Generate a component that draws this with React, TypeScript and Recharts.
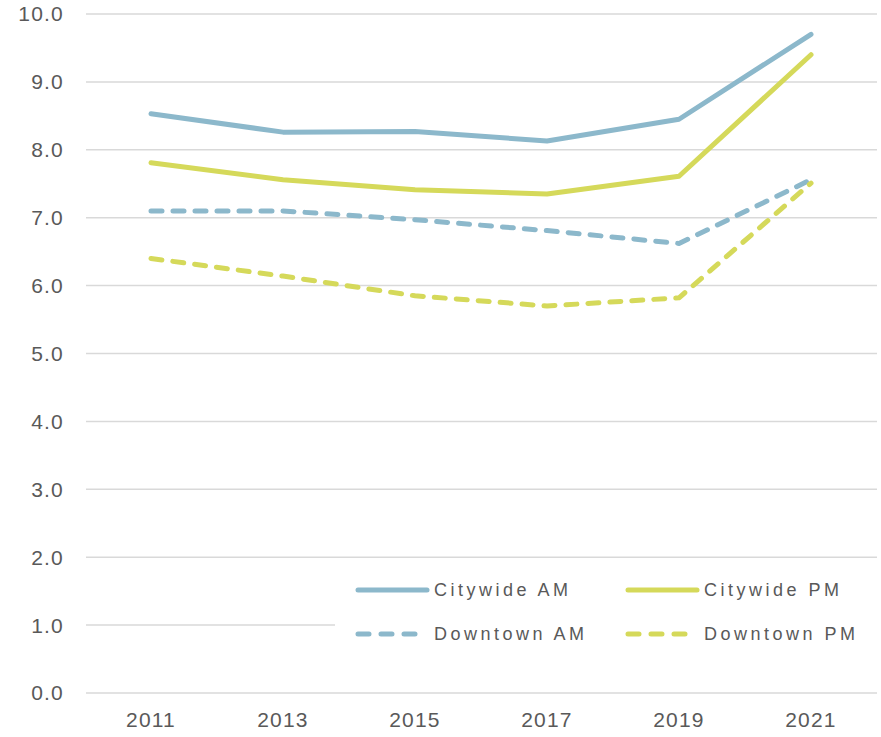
import { LineChart, Line, XAxis, YAxis, CartesianGrid } from 'recharts';

const years = ['2011', '2013', '2015', '2017', '2019', '2021'];
const citywideAM = [8.53, 8.26, 8.27, 8.13, 8.45, 9.7];
const citywidePM = [7.81, 7.56, 7.41, 7.35, 7.61, 9.4];
const downtownAM = [7.1, 7.1, 6.97, 6.81, 6.62, 7.56];
const downtownPM = [6.4, 6.14, 5.85, 5.7, 5.82, 7.51];
const yTicks = [0, 1, 2, 3, 4, 5, 6, 7, 8, 9, 10];

const BLUE = '#8cb8cb';
const YELLOW = '#d5d95a';
const TEXT = '#595959';

const SERIES = [
  { key: 'citywideAM', label: 'Citywide AM', color: BLUE, dashed: false },
  { key: 'citywidePM', label: 'Citywide PM', color: YELLOW, dashed: false },
  { key: 'downtownAM', label: 'Downtown AM', color: BLUE, dashed: true },
  { key: 'downtownPM', label: 'Downtown PM', color: YELLOW, dashed: true },
];

const data = years.map((y, i) => ({
  year: y,
  citywideAM: citywideAM[i],
  citywidePM: citywidePM[i],
  downtownAM: downtownAM[i],
  downtownPM: downtownPM[i],
}));

// legend sits on a white box over the lower right of the plot
function LegendBox() {
  return (
    <div
      style={{
        position: 'absolute',
        left: 335,
        top: 566,
        background: '#fff',
        width: 546,
        height: 92,
        display: 'grid',
        gridTemplateColumns: '270px 276px',
        gridTemplateRows: '44px 44px',
        paddingLeft: 20,
        paddingTop: 2,
        boxSizing: 'border-box',
      }}
    >
      {SERIES.map((s) => (
        <div key={s.key} style={{ display: 'flex', alignItems: 'center' }}>
          <svg width={79} height={10} style={{ display: 'block', flex: 'none' }}>
            <line
              x1={3}
              y1={5}
              x2={s.dashed ? 66 : 72}
              y2={5}
              stroke={s.color}
              strokeWidth={5}
              strokeLinecap="round"
              strokeDasharray={s.dashed ? '11 12' : undefined}
            />
          </svg>
          <span
            style={{
              fontFamily: '"Liberation Sans", Arial, sans-serif',
              fontSize: 18,
              letterSpacing: 3.5,
              color: TEXT,
              whiteSpace: 'nowrap',
            }}
          >
            {s.label}
          </span>
        </div>
      ))}
    </div>
  );
}

export default function App() {
  const tick = {
    fill: TEXT,
    fontSize: 21,
    letterSpacing: 1.2,
    fontFamily: '"Liberation Sans", Arial, sans-serif',
  };
  return (
    <div style={{ position: 'absolute', left: 0, top: 0, width: 881, height: 737, background: '#fff' }}>
      <LineChart width={881} height={737} data={data} margin={{ top: 14, right: 4, bottom: 0, left: 0 }}>
        <CartesianGrid vertical={false} stroke="#d9d9d9" strokeWidth={1.5} />
        <XAxis
          dataKey="year"
          axisLine={false}
          tickLine={false}
          tickSize={0}
          tickMargin={19}
          height={44}
          padding={{ left: 65, right: 66 }}
          tick={tick}
        />
        <YAxis
          domain={[0, 10]}
          ticks={yTicks}
          tickFormatter={(v: number) => v.toFixed(1)}
          axisLine={false}
          tickLine={false}
          tickSize={0}
          tickMargin={22}
          width={86}
          tick={tick}
          interval={0}
        />
        {SERIES.map((s) => (
          <Line
            key={s.key}
            dataKey={s.key}
            name={s.label}
            type="linear"
            stroke={s.color}
            strokeWidth={5}
            strokeLinecap="round"
            strokeLinejoin="round"
            strokeDasharray={s.dashed ? '11 11' : undefined}
            dot={false}
            activeDot={false}
            isAnimationActive={false}
          />
        ))}
      </LineChart>
      <LegendBox />
    </div>
  );
}
